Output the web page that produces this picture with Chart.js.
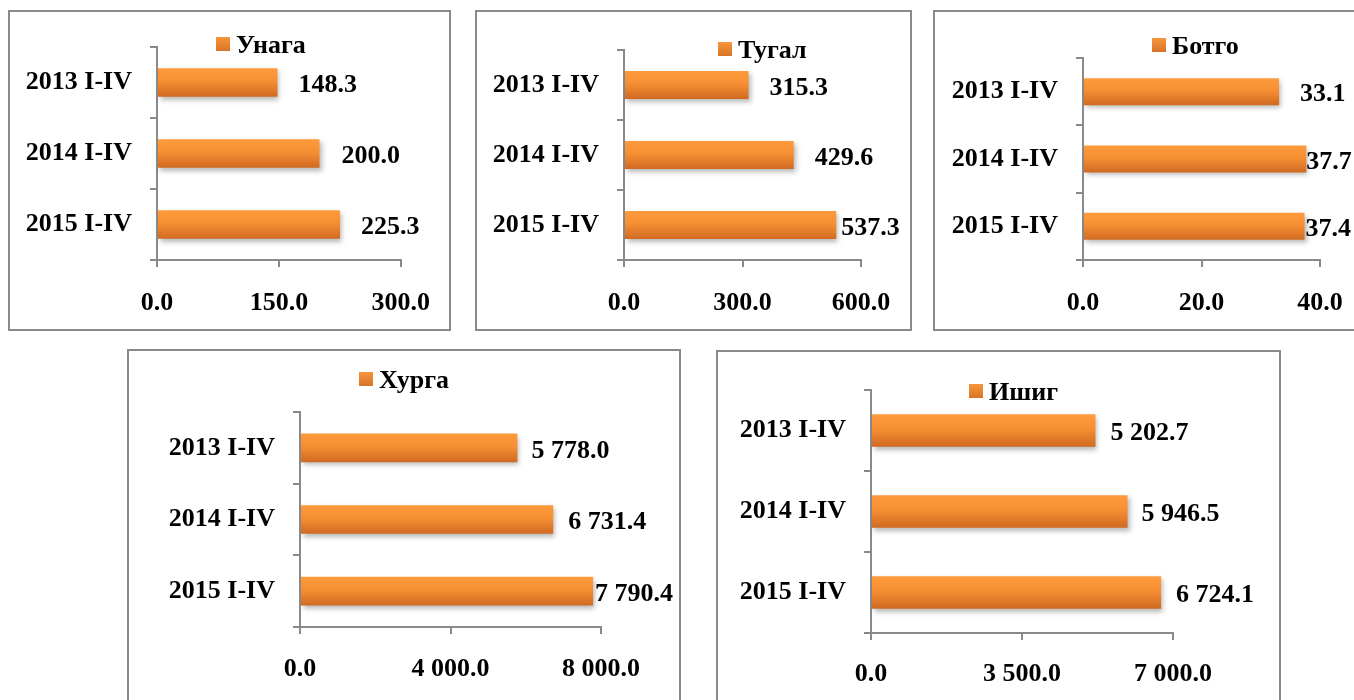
<!DOCTYPE html>
<html>
<head>
<meta charset="utf-8">
<script src="https://cdn.jsdelivr.net/npm/chart.js@4.4.1/dist/chart.umd.min.js"></script>
<style>
  html, body { margin: 0; padding: 0; width: 1354px; height: 700px; overflow: hidden; background: #fff; }
  .frame { position: absolute; border: 2px solid #8a8a8a; box-sizing: border-box; }
  canvas { position: absolute; }
</style>
</head>
<body>
<script>
// data
var categories = ['2013 I-IV', '2014 I-IV', '2015 I-IV'];
var seriesNames = ['Унага', 'Тугал', 'Ботго', 'Хурга', 'Ишиг'];
var unagaValues = [148.3, 200.0, 225.3];
var tugalValues = [315.3, 429.6, 537.3];
var botgoValues = [33.1, 37.7, 37.4];
var khurgaValues = [5778.0, 6731.4, 7790.4];
var ishigValues = [5202.7, 5946.5, 6724.1];
var axisMax = [300, 600, 40, 8000, 7000];
var axisStep = [150, 300, 20, 4000, 3500];

// page layout of each panel (box = frame, area = plot area, legend = marker corner)
var panels = [
  {values: unagaValues,  box: [8, 10, 451, 331],    area: [157, 47, 404, 260],  legend: [216, 37],  lblOff: [21, 22, 21], padX: 21},
  {values: tugalValues,  box: [475, 10, 912, 331],  area: [624, 50, 861, 260],  legend: [718, 42],  lblOff: [21, 21, 5],  padX: 21},
  {values: botgoValues,  box: [933, 10, 1372, 331], area: [1083, 58, 1320, 260], legend: [1152, 38], lblOff: [21, 0, 1],   padX: 21},
  {values: khurgaValues, box: [127, 349, 681, 712], area: [300, 412, 601, 627], legend: [359, 372], lblOff: [14, 15, 2],  padX: 20},
  {values: ishigValues,  box: [716, 350, 1281, 712], area: [871, 390, 1173, 633], legend: [969, 384], lblOff: [15, 14, 15], padX: 19}
];

var FONT = "'Liberation Serif', 'Times New Roman', serif";
var FSIZE = 26;
var GRAY = '#8a8a8a';

function fmt(v) {
  var s = Number(v).toFixed(1).split('.');
  return s[0].replace(/\B(?=(\d{3})+(?!\d))/g, ' ') + '.' + s[1];
}

function barFill(c) {
  var chart = c.chart;
  if (!chart.chartArea || c.dataIndex === undefined) return '#F08A2C';
  var ys = chart.scales.y;
  var yc = ys.getPixelForValue(c.dataIndex);
  var h = (chart.chartArea.bottom - chart.chartArea.top) / categories.length * 0.4;
  var g = chart.ctx.createLinearGradient(0, yc - h / 2, 0, yc + h / 2);
  g.addColorStop(0, '#FF9B3C');
  g.addColorStop(0.45, '#F68F33');
  g.addColorStop(1, '#D06A22');
  return g;
}

var shadowPlugin = {
  id: 'barShadow',
  beforeDatasetsDraw: function(chart) {
    var ctx = chart.ctx;
    ctx.save();
    ctx.shadowColor = 'rgba(0,0,0,0.28)';
    ctx.shadowBlur = 5;
    ctx.shadowOffsetX = 2;
    ctx.shadowOffsetY = 3;
  },
  afterDatasetsDraw: function(chart) {
    chart.ctx.restore();
  }
};

var valueLabels = {
  id: 'valueLabels',
  afterDatasetsDraw: function(chart, args, opts) {
    var ctx = chart.ctx;
    var meta = chart.getDatasetMeta(0);
    var data = chart.data.datasets[0].data;
    ctx.save();
    ctx.font = 'bold ' + FSIZE + 'px ' + FONT;
    ctx.fillStyle = '#000';
    ctx.textAlign = 'left';
    ctx.textBaseline = 'middle';
    meta.data.forEach(function(bar, i) {
      ctx.fillText(fmt(data[i]), bar.x + opts.offsets[i], bar.y + 3);
    });
    ctx.restore();
  }
};

var markerLegend = {
  id: 'markerLegend',
  afterDraw: function(chart, args, opts) {
    var ctx = chart.ctx;
    ctx.save();
    var g = ctx.createLinearGradient(0, opts.y, 0, opts.y + 14);
    g.addColorStop(0, '#F7963A');
    g.addColorStop(1, '#D8742A');
    ctx.fillStyle = g;
    ctx.fillRect(opts.x, opts.y, 14, 14);
    ctx.font = 'bold ' + FSIZE + 'px ' + FONT;
    ctx.fillStyle = '#000';
    ctx.textAlign = 'left';
    ctx.textBaseline = 'middle';
    ctx.fillText(opts.text, opts.x + 20, opts.y + 9);
    ctx.restore();
  }
};

panels.forEach(function(p, k) {
  var L = p.box[0], T = p.box[1], W = p.box[2] - p.box[0], H = p.box[3] - p.box[1];

  var frame = document.createElement('div');
  frame.className = 'frame';
  frame.style.left = L + 'px';
  frame.style.top = T + 'px';
  frame.style.width = W + 'px';
  frame.style.height = H + 'px';
  document.body.appendChild(frame);

  var cv = document.createElement('canvas');
  cv.width = W;
  cv.height = H;
  cv.style.left = L + 'px';
  cv.style.top = T + 'px';
  cv.style.width = W + 'px';
  cv.style.height = H + 'px';
  document.body.appendChild(cv);

  var yw = p.area[0] - L;
  var xh = p.box[3] - p.area[3];

  new Chart(cv.getContext('2d'), {
    type: 'bar',
    data: {
      labels: categories,
      datasets: [{
        label: seriesNames[k],
        data: p.values,
        backgroundColor: barFill,
        borderWidth: 0,
        categoryPercentage: 1,
        barPercentage: 0.4
      }]
    },
    options: {
      indexAxis: 'y',
      responsive: false,
      animation: false,
      layout: { padding: { left: 0, top: p.area[1] - T, right: p.box[2] - p.area[2], bottom: 0 } },
      scales: {
        x: {
          min: 0,
          max: axisMax[k],
          afterFit: function(s) { s.height = xh; },
          ticks: {
            stepSize: axisStep[k],
            color: '#000',
            padding: p.padX,
            maxRotation: 0,
            font: { family: FONT, size: FSIZE, weight: 'bold' },
            callback: function(v) { return fmt(v); }
          },
          grid: { drawOnChartArea: false, color: GRAY, lineWidth: 2, tickLength: 7 },
          border: { color: GRAY, width: 2 }
        },
        y: {
          afterFit: function(s) { s.width = yw; },
          ticks: {
            color: '#000',
            padding: 18,
            font: { family: FONT, size: FSIZE, weight: 'bold' }
          },
          grid: { drawOnChartArea: false, offset: true, color: GRAY, lineWidth: 2, tickLength: 7 },
          border: { color: GRAY, width: 2 }
        }
      },
      plugins: {
        legend: { display: false },
        tooltip: { enabled: false },
        valueLabels: { offsets: p.lblOff },
        markerLegend: { x: p.legend[0] - L, y: p.legend[1] - T, text: seriesNames[k] }
      }
    },
    plugins: [shadowPlugin, valueLabels, markerLegend]
  });
});
</script>
</body>
</html>
